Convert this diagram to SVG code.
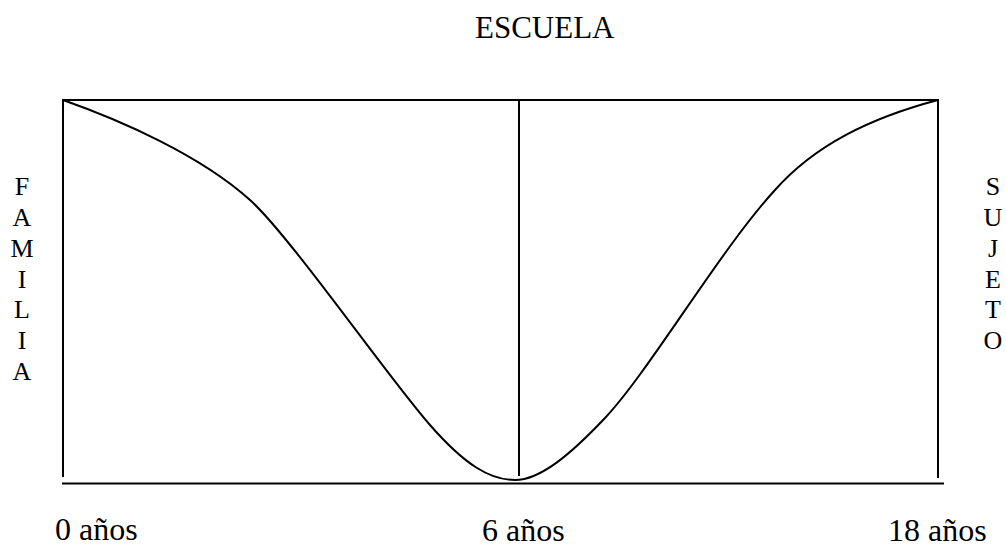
<svg xmlns="http://www.w3.org/2000/svg" width="1006" height="547" viewBox="0 0 1006 547">
<style>
.t{font-family:"Liberation Serif","Times New Roman",serif;fill:#000;}
.lbl{font-size:32px;}
.ttl{font-size:31px;}
.v{font-size:26px;text-anchor:middle;}
.ln{stroke:#000;stroke-width:2;fill:none;}
</style>
<rect width="1006" height="547" fill="#fff"/>
<g id="frame">
<line class="ln" x1="62" y1="100" x2="939" y2="100"/>
<line class="ln" x1="63" y1="100" x2="63" y2="477"/>
<line class="ln" x1="519" y1="100" x2="519" y2="476"/>
<line class="ln" x1="938" y1="100" x2="938" y2="478"/>
<line class="ln" x1="62" y1="483.5" x2="944" y2="483.5"/>
</g>
<g id="curve">
<path class="ln" d="M63,100 C120,120 200,155 250,200 C290,236 390,380 430,425 C465,465 490,480 515,480 C540,480 570,455 605,418 C650,370 720,250 775,190 C815,145 870,118 938,100"/>
</g>
<g id="escuela"><text class="t ttl" x="475" y="38">ESCUELA</text></g>
<g id="familia">
<text class="t v" x="22" y="195">F</text>
<text class="t v" x="22" y="226">A</text>
<text class="t v" x="22" y="257">M</text>
<text class="t v" x="22" y="288">I</text>
<text class="t v" x="22" y="318">L</text>
<text class="t v" x="22" y="349">I</text>
<text class="t v" x="22" y="380">A</text>
</g>
<g id="sujeto">
<text class="t v" x="993" y="195">S</text>
<text class="t v" x="993" y="226">U</text>
<text class="t v" x="993" y="257">J</text>
<text class="t v" x="993" y="288">E</text>
<text class="t v" x="993" y="318">T</text>
<text class="t v" x="993" y="349">O</text>
</g>
<g id="edades">
<text class="t lbl" x="55" y="540">0 años</text>
<text class="t lbl" x="482" y="541">6 años</text>
<text class="t lbl" x="888" y="541">18 años</text>
</g>
</svg>
